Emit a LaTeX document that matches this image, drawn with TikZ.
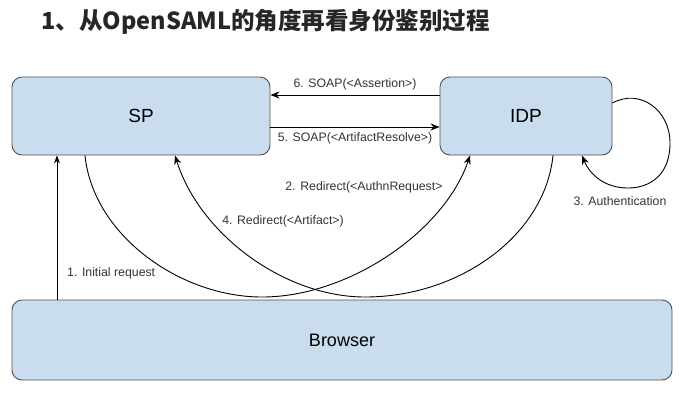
\documentclass[tikz,border=0pt]{standalone}
\usepackage{fontspec}
\setmainfont{Liberation Sans}
\newfontfamily\cjk{Noto Sans CJK SC}
\usetikzlibrary{arrows.meta}
\definecolor{boxfill}{HTML}{C9DDEF}
\definecolor{boxline}{HTML}{505050}
\tikzset{
  entity/.style={draw=boxline, line width=0.9pt, fill=boxfill, rounded corners=10pt, inner sep=0pt},
  conn/.style={line width=0.9pt, -{Stealth[length=9pt,width=7pt]}},
  lbl/.style={font=\fontsize{12.3}{14}\selectfont, text=black!80, inner sep=1pt},
}
\begin{document}
\begin{tikzpicture}[x=1pt,y=-1pt]
\useasboundingbox (0,0) rectangle (685,400);
\node[anchor=west, font=\cjk\bfseries\fontsize{23.5}{26}\selectfont, text=black!85] (title) at (38,22) {1、从OpenSAML的角度再看身份鉴别过程};
\node[entity, minimum width=258pt, minimum height=78pt, font=\fontsize{19}{22}\selectfont] (sp) at (141,116) {SP};
\node[entity, minimum width=172pt, minimum height=78pt, font=\fontsize{19}{22}\selectfont] (idp) at (526,116) {IDP};
\node[entity, minimum width=660pt, minimum height=80pt, font=\fontsize{18}{22}\selectfont] (browser) at (342,340) {Browser};
\coordinate (c1) at (57,300);
\coordinate (b2) at (262,297);
\coordinate (b4) at (365,297);
% 6 and 5
\draw[conn] ([yshift=21pt]idp.west) -- node[lbl, above=4pt] (l6) {6. SOAP(<Assertion>)} ([yshift=21pt]sp.east);
\draw[conn] ([yshift=-11pt]sp.east) -- node[lbl, below=4pt] (l5) {5. SOAP(<ArtifactResolve>)} ([yshift=-11pt]idp.west);
% 1
\draw[line width=0.7pt, -{Stealth[length=8pt,width=6pt]}] (browser.north -| c1) -- (sp.south -| c1);
\node[lbl, anchor=west] (l1) at (66,273) {1. Initial request};
% 2
\draw[conn] ([xshift=-56pt]sp.south) .. controls (93,235) and (180,297) .. (b2)
  .. controls (350,297) and (445,230) .. ([xshift=-56pt]idp.south);
\node[lbl] (l2) at (364,187) {2. Redirect(<AuthnRequest>};
% 4
\draw[conn] ([xshift=27pt]idp.south) .. controls (545,235) and (460,297) .. (b4)
  .. controls (285,297) and (200,235) .. ([xshift=34pt]sp.south);
\node[lbl] (l4) at (283,221) {4. Redirect(<Artifact>)};
% 3
\draw[conn] ([yshift=13pt]idp.east) .. controls (640,88) and (670,110) .. (670,143)
  .. controls (670,175) and (650,188) .. (628,188)
  .. controls (605,188) and (590,175) .. ([xshift=56pt]idp.south);
\node[lbl] (l3) at (620,201) {3. Authentication};
\end{tikzpicture}
\end{document}
